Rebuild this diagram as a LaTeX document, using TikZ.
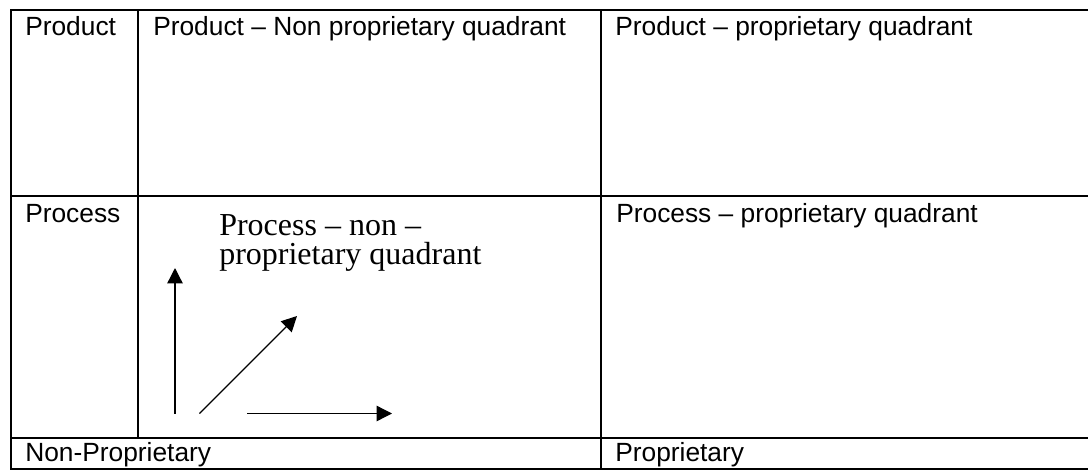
\documentclass[tikz,border=0pt]{standalone}
\usepackage{fontspec}
\setmainfont{Liberation Sans}
\newfontfamily\serifface{Liberation Serif}
\usetikzlibrary{arrows.meta}
\begin{document}
\begin{tikzpicture}[x=0.75pt, y=-0.75pt,
  grid/.style={line width=2.2pt, line cap=rect},
  cell/.style={anchor=base west, inner sep=0pt, font=\fontsize{19.75pt}{24pt}\selectfont},
  note/.style={anchor=base west, inner sep=0pt, align=left,
    font=\serifface\fontsize{24pt}{21.5pt}\selectfont},
  axis/.style={line width=1pt, -{Triangle[length=11.5pt, width=11.5pt]}}]
\useasboundingbox (0,0) rectangle (1088,471);
\fill[white] (0,0) rectangle (1088,471);

% table rules
\draw[grid] (11,10) -- (1090,10);
\draw[grid] (11,196) -- (1090,196);
\draw[grid] (11,438) -- (1090,438);
\draw[grid] (11,469) -- (1090,469);
\draw[grid] (11,10) -- (11,469);
\draw[grid] (138,10) -- (138,438);
\draw[grid] (601,10) -- (601,469);

% cell texts
\node[cell] (prod) at (25,35.5) {Product};
\node[cell] (prodnp) at (153,35.5) {Product – Non proprietary quadrant};
\node[cell] (prodp) at (615,35.5) {Product – proprietary quadrant};
\node[cell] (proc) at (25,222) {Process};
\node[cell] (procp) at (616,222) {Process – proprietary quadrant};
\node[cell] (nonprop) at (25,461) {Non-Proprietary};
\node[cell] (prop) at (615,461) {Proprietary};

% two-line note; the base anchor sits on its last line
\node[note] (procnp) at (219,264.3) {Process – non –\\proprietary quadrant};

% direction arrows
\coordinate (up0) at (175,413.5);
\coordinate (up1) at (175,268);
\coordinate (dg0) at (199.5,413.5);
\coordinate (dg1) at (297,316);
\coordinate (rt0) at (247,413.5);
\coordinate (rt1) at (392,413.5);
\draw[axis] (up0) -- (up1);
\draw[axis] (dg0) -- (dg1);
\draw[axis] (rt0) -- (rt1);
\end{tikzpicture}
\end{document}
